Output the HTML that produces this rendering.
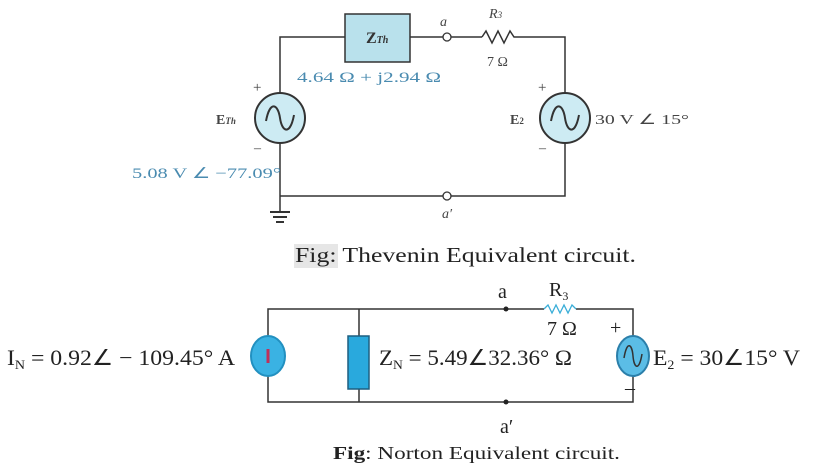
<!DOCTYPE html>
<html><head><style>body{margin:0;background:#fff}svg{display:block}</style></head><body>
<svg width="815" height="469" viewBox="0 0 815 469" xmlns="http://www.w3.org/2000/svg">
<g stroke="#333" stroke-width="1.5" fill="none">
<polyline points="280,95 280,37 345,37"/>
<line x1="410" y1="37" x2="443" y2="37"/>
<polyline points="451,37 482,37"/>
<polyline points="482,37 486,31 492,43 498,31 504,43 510,31 514,37 565,37 565,95"/>
<line x1="280" y1="141" x2="280" y2="196"/>
<line x1="280" y1="196" x2="443" y2="196"/>
<polyline points="451,196 565,196 565,141"/>
<line x1="280" y1="196" x2="280" y2="212"/>
</g>
<g stroke="#333" stroke-width="2"><line x1="270" y1="212" x2="290" y2="212"/><line x1="273" y1="217" x2="287" y2="217"/><line x1="276" y1="222" x2="284" y2="222"/></g>
<circle cx="447" cy="37" r="4" fill="#fff" stroke="#333" stroke-width="1.3"/>
<circle cx="447" cy="196" r="4" fill="#fff" stroke="#333" stroke-width="1.3"/>
<rect x="345" y="14" width="65" height="48" fill="#b9e1ec" stroke="#333" stroke-width="1.5"/>
<text x="366" y="43" font-family="Liberation Serif" font-weight="bold" font-size="16" fill="#333">Z<tspan font-size="10" font-style="italic">Th</tspan></text>
<circle cx="280" cy="118" r="25" fill="#cdebf3" stroke="#333" stroke-width="2"/>
<circle cx="565" cy="118" r="25" fill="#cdebf3" stroke="#333" stroke-width="2"/>
<path d="M266,121 C270,100 278,104 280,118 C282,132 290,136 294,115" stroke="#333" stroke-width="2" fill="none"/>
<path d="M551,121 C555,100 563,104 565,118 C567,132 575,136 579,115" stroke="#333" stroke-width="2" fill="none"/>
<g font-family="Liberation Serif" font-size="14" fill="#444">
<text x="440" y="26" font-style="italic">a</text>
<text x="489" y="18" font-style="italic">R<tspan font-size="9">3</tspan></text>
<text x="487" y="66">7 Ω</text>
<text x="253" y="92" font-size="15">+</text>
<text x="538" y="92" font-size="15">+</text>
<text x="254" y="152">–</text>
<text x="539" y="152">–</text>
<text x="216" y="124" font-weight="bold">E<tspan font-size="9" font-style="italic">Th</tspan></text>
<text x="510" y="124" font-weight="bold">E<tspan font-size="9">2</tspan></text>
<text x="595" y="124" textLength="94" lengthAdjust="spacingAndGlyphs">30 V ∠ 15°</text>
<text x="442" y="218" font-style="italic">a′</text>
</g>
<g font-family="Liberation Serif" font-size="15" fill="#4a8bb0">
<text x="297" y="82" textLength="144" lengthAdjust="spacingAndGlyphs">4.64 Ω + j2.94 Ω</text>
<text x="132" y="178" textLength="149" lengthAdjust="spacingAndGlyphs">5.08 V ∠ −77.09°</text>
</g>
<rect x="294" y="244" width="44" height="24" fill="#e6e6e6"/>
<text x="295" y="262" font-family="Liberation Serif" font-size="21" fill="#222" textLength="341" lengthAdjust="spacingAndGlyphs">Fig: Thevenin Equivalent circuit.</text>
<g stroke="#333" stroke-width="1.5" fill="none">
<polyline points="268,336 268,309 544,309"/>
<polyline points="576,309 633,309 633,336"/>
<polyline points="268,376 268,402 633,402 633,376"/>
<line x1="359" y1="309" x2="359" y2="336"/><line x1="359" y1="389" x2="359" y2="402"/>
</g>
<polyline points="544,309 548,305 552,313 556,305 560,313 564,305 568,313 572,305 576,309" stroke="#3aaed8" stroke-width="1.3" fill="none"/>
<circle cx="506" cy="309" r="2.5" fill="#222"/><circle cx="506" cy="402" r="2.5" fill="#222"/>
<rect x="348" y="336" width="21" height="53" fill="#29a9dd" stroke="#1d5f80" stroke-width="1.5"/>
<ellipse cx="268" cy="356" rx="17" ry="20" fill="#3ab2e3" stroke="#2290c0" stroke-width="2"/>
<line x1="268" y1="349" x2="268" y2="363" stroke="#c0305a" stroke-width="3"/>
<ellipse cx="633" cy="356" rx="16" ry="20" fill="#5bbde6" stroke="#2b7faa" stroke-width="2"/>
<path d="M624,358 C627,340 632,344 633,356 C634,368 639,372 642,354" stroke="#333" stroke-width="1.5" fill="none"/>
<g font-family="Liberation Serif" font-size="22" fill="#222">
<text x="7" y="365" textLength="228" lengthAdjust="spacingAndGlyphs">I<tspan font-size="13" dy="4">N</tspan><tspan dy="-4"> = 0.92∠ − 109.45° A</tspan></text>
<text x="379" y="365" textLength="193" lengthAdjust="spacingAndGlyphs">Z<tspan font-size="13" dy="4">N</tspan><tspan dy="-4"> = 5.49∠32.36° Ω</tspan></text>
<text x="653" y="365" textLength="147" lengthAdjust="spacingAndGlyphs">E<tspan font-size="13" dy="4">2</tspan><tspan dy="-4"> = 30∠15° V</tspan></text>
<text x="498" y="298" font-size="20">a</text>
<text x="549" y="296" font-size="20">R<tspan font-size="12" dy="4">3</tspan></text>
<text x="547" y="335" font-size="20">7 Ω</text>
<text x="610" y="334" font-size="20">+</text>
<text x="625" y="394" font-size="20">–</text>
<text x="500" y="433" font-size="20">a′</text>
</g>
<text x="333" y="459" font-family="Liberation Serif" font-size="18" fill="#222" textLength="287" lengthAdjust="spacingAndGlyphs"><tspan font-weight="bold">Fig</tspan>: Norton Equivalent circuit.</text>
</svg>
</body></html>
